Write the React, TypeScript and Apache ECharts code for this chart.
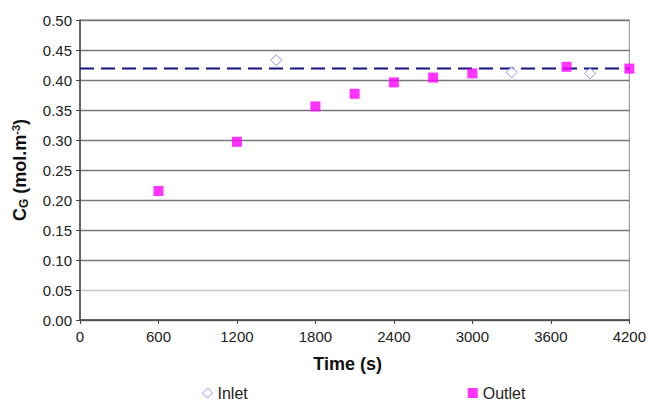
import React, { useEffect, useRef } from "react";
import * as echarts from "echarts";

const inletTime = [1500, 3300, 3900];
const inletConc = [0.433, 0.413, 0.411];
const outletTime = [600, 1200, 1800, 2100, 2400, 2700, 3000, 3720, 4200];
const outletConc = [0.215, 0.297, 0.356, 0.377, 0.396, 0.404, 0.411, 0.422, 0.419];
const referenceLevel = 0.419;
const xTicks = [0, 4200, 600];
const yTicks = [0, 0.5, 0.05];

export default function App() {
  const ref = useRef<HTMLDivElement>(null);
  useEffect(() => {
    if (!ref.current) return;
    const chart = echarts.init(ref.current, null, { renderer: "svg" });
    const font = "Liberation Sans, Arial, sans-serif";
    chart.setOption({
      animation: false,
      backgroundColor: "#ffffff",
      textStyle: { fontFamily: font },
      grid: { left: 80, right: 19, top: 20, bottom: 83, show: true, borderColor: "#8a8a8a", borderWidth: 1 },
      legend: {
        left: 197,
        top: 380,
        itemGap: 220,
        itemWidth: 10,
        itemHeight: 10,
        textStyle: { fontSize: 16, color: "#222", fontFamily: font },
        data: [
          { name: "Inlet", icon: "diamond", itemStyle: { color: "#ffffff", borderColor: "#7878f0", borderWidth: 1 } },
          { name: "Outlet", icon: "rect" },
        ],
      },
      xAxis: {
        type: "value",
        min: xTicks[0],
        max: xTicks[1],
        interval: xTicks[2],
        name: "Time (s)",
        nameLocation: "middle",
        nameGap: 35,
        nameTextStyle: { fontSize: 18, fontWeight: "bold", color: "#111", fontFamily: font, padding: [0, 14, 0, 0] },
        axisLine: { show: true, lineStyle: { color: "#444", width: 1.5 } },
        axisTick: { show: true, length: 4, lineStyle: { color: "#444" } },
        axisLabel: { fontSize: 15, color: "#222", margin: 9, fontFamily: font, formatter: (v: number) => String(v) },
        splitLine: { show: false },
      },
      yAxis: {
        type: "value",
        min: yTicks[0],
        max: yTicks[1],
        interval: yTicks[2],
        name: "{b|C}{sub|G}{b| (mol.m}{sup|-3}{b|)}",
        nameLocation: "middle",
        nameRotate: 90,
        nameGap: 50,
        nameTextStyle: {
          rich: {
            b: { fontSize: 18, fontWeight: "bold", color: "#111", fontFamily: font },
            sub: { fontSize: 12, fontWeight: "bold", color: "#111", fontFamily: font, verticalAlign: "bottom", padding: [8, 0, 0, 0] },
            sup: { fontSize: 11, fontWeight: "bold", color: "#111", fontFamily: font, verticalAlign: "top", padding: [0, 0, 8, 0] },
          },
        },
        axisLine: { show: true, lineStyle: { color: "#444", width: 1.5 } },
        axisTick: { show: true, length: 4, lineStyle: { color: "#444" } },
        axisLabel: {
          fontSize: 15,
          color: "#222",
          margin: 8,
          fontFamily: font,
          formatter: (v: number) => v.toFixed(2),
        },
        splitLine: {
          show: true,
          lineStyle: {
            color: ["#777", "#c4c4c4", "#777", "#777", "#777", "#777", "#777", "#777", "#777", "#777", "#777"],
            width: 1.3,
          },
        },
      },
      series: [
        {
          name: "Reference",
          type: "line",
          data: [
            [xTicks[0], referenceLevel],
            [xTicks[1], referenceLevel],
          ],
          symbol: "none",
          lineStyle: { color: "#141480", width: 2, type: [14, 7] },
          z: 3,
        },
        {
          name: "Inlet",
          type: "scatter",
          data: inletTime.map((t, i) => [t, inletConc[i]]),
          symbol: "diamond",
          symbolSize: 11,
          itemStyle: { color: "#ffffff", borderColor: "#7878f0", borderWidth: 1 },
          z: 4,
        },
        {
          name: "Outlet",
          type: "scatter",
          data: outletTime.map((t, i) => [t, outletConc[i]]),
          symbol: "rect",
          symbolSize: 10,
          itemStyle: { color: "#ff00ff" },
          z: 5,
        },
      ],
    });
    return () => chart.dispose();
  }, []);
  return <div ref={ref} style={{ width: 649, height: 403, position: "absolute", left: 0, top: 0 }} />;
}
